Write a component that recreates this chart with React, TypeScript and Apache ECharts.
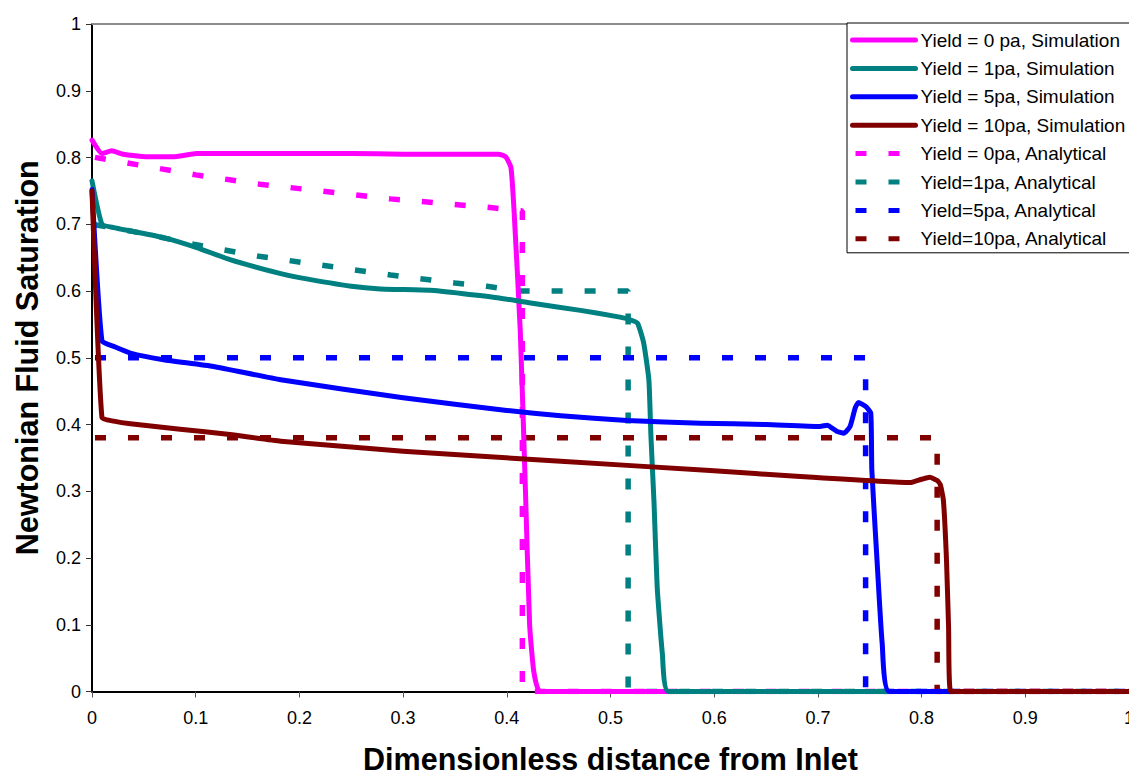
import React, { useEffect, useRef } from "react";
import * as echarts from "echarts";

// Simulated saturation profiles: [dimensionless distance, saturation]
const yield0Sim: [number, number][] = [
  [0, 0.826], [0.0096, 0.806], [0.019, 0.81], [0.03, 0.805], [0.053, 0.801], [0.078, 0.801],
  [0.101, 0.806], [0.182, 0.806], [0.25, 0.806], [0.3, 0.805], [0.38, 0.805], [0.392, 0.805],
  [0.399, 0.801], [0.404, 0.785], [0.407, 0.72], [0.413, 0.54], [0.418, 0.3], [0.422, 0.1],
  [0.426, 0.03], [0.432, 0.0], [1, 0],
];
const yield1Sim: [number, number][] = [
  [0, 0.765], [0.0096, 0.7], [0.021, 0.695], [0.037, 0.69], [0.069, 0.68], [0.101, 0.665],
  [0.133, 0.647], [0.182, 0.626], [0.2, 0.62], [0.25, 0.607], [0.278, 0.603], [0.326, 0.601],
  [0.358, 0.596], [0.391, 0.59], [0.423, 0.582], [0.471, 0.571], [0.505, 0.562], [0.517, 0.558],
  [0.526, 0.552], [0.532, 0.522], [0.537, 0.467], [0.539, 0.382], [0.542, 0.282], [0.545, 0.157],
  [0.55, 0.057], [0.556, 0.0], [1, 0],
];
const yield5Sim: [number, number][] = [
  [0, 0.752], [0.0096, 0.525], [0.021, 0.517], [0.037, 0.507], [0.069, 0.497], [0.117, 0.487],
  [0.182, 0.467], [0.3, 0.44], [0.4, 0.421], [0.452, 0.413], [0.516, 0.406], [0.587, 0.402],
  [0.65, 0.4], [0.702, 0.397], [0.709, 0.399], [0.718, 0.39], [0.725, 0.387], [0.731, 0.397],
  [0.736, 0.425], [0.739, 0.433], [0.746, 0.427], [0.751, 0.417], [0.752, 0.332], [0.757, 0.197],
  [0.762, 0.072], [0.769, 0.0], [1, 0],
];
const yield10Sim: [number, number][] = [
  [0, 0.75], [0.0096, 0.41], [0.021, 0.405], [0.037, 0.401], [0.085, 0.393], [0.133, 0.385],
  [0.182, 0.375], [0.3, 0.36], [0.452, 0.345], [0.596, 0.331], [0.683, 0.322], [0.789, 0.313],
  [0.8, 0.318], [0.808, 0.321], [0.815, 0.316], [0.818, 0.31], [0.821, 0.287], [0.824, 0.197],
  [0.826, 0.097], [0.828, 0.0], [1, 0],
];

// Analytical profiles
const yield0Ana: [number, number][] = [
  [0, 0.801], [0.037, 0.791], [0.1, 0.774], [0.162, 0.76], [0.288, 0.738], [0.384, 0.725],
  [0.415, 0.72], [0.415, 0], [1, 0],
];
const yield1Ana: [number, number][] = [
  [0, 0.7], [0.037, 0.69], [0.098, 0.67], [0.161, 0.652], [0.288, 0.624], [0.35, 0.612],
  [0.381, 0.607], [0.413, 0.6], [0.517, 0.6], [0.517, 0], [1, 0],
];
const yield5Ana: [number, number][] = [[0, 0.5], [0.746, 0.5], [0.746, 0], [1, 0]];
const yield10Ana: [number, number][] = [[0, 0.38], [0.815, 0.38], [0.815, 0], [1, 0]];

const seriesNames = [
  "Yield = 0 pa, Simulation",
  "Yield = 1pa, Simulation",
  "Yield = 5pa, Simulation",
  "Yield = 10pa, Simulation",
  "Yield = 0pa, Analytical",
  "Yield=1pa, Analytical",
  "Yield=5pa, Analytical",
  "Yield=10pa, Analytical",
];
const seriesColors = ["#FF00FF", "#008080", "#0000FF", "#800000"];

const FONT = "'Liberation Sans', Arial, sans-serif";
const fmt = (v: number) => String(+v.toFixed(1));

export default function App() {
  const ref = useRef<HTMLDivElement>(null);

  useEffect(() => {
    if (!ref.current) return;
    const chart = echarts.init(ref.current, undefined, { renderer: "svg" });
    const simData = [yield0Sim, yield1Sim, yield5Sim, yield10Sim];
    const anaData = [yield0Ana, yield1Ana, yield5Ana, yield10Ana];

    const series: any[] = [];
    simData.forEach((d, i) => {
      series.push({
        name: seriesNames[i],
        type: "line",
        data: d,
        showSymbol: false,
        symbol: "none",
        smooth: 0.15,
        lineStyle: { color: seriesColors[i], width: 5, cap: "round", join: "round" },
        itemStyle: { color: seriesColors[i] },
        z: 3,
      });
    });
    anaData.forEach((d, i) => {
      series.push({
        name: seriesNames[i + 4],
        type: "line",
        data: d,
        showSymbol: false,
        symbol: "none",
        lineStyle: {
          color: seriesColors[i],
          width: 5.5,
          type: [11, 22],
          dashOffset: -3,
          cap: "butt",
        },
        itemStyle: { color: seriesColors[i] },
        z: 2,
      });
    });

    chart.setOption({
      animation: false,
      backgroundColor: "#ffffff",
      grid: {
        left: 92,
        right: 0,
        top: 24,
        bottom: 83.5,
        containLabel: false,
        outerBoundsMode: "none",
      },
      legend: {
        orient: "vertical",
        left: 847,
        top: 23,
        itemWidth: 63,
        itemHeight: 16,
        itemGap: 9.4,
        padding: [7.5, 20, 4.5, 3],
        backgroundColor: "#ffffff",
        borderColor: "#000000",
        borderWidth: 1,
        borderRadius: 0,
        itemStyle: { opacity: 0 },
        lineStyle: { width: 5 },
        textStyle: { fontFamily: FONT, fontSize: 19, lineHeight: 19, color: "#000" },
        data: seriesNames,
      },
      xAxis: [
        {
          type: "value",
          min: 0,
          max: 1,
          interval: 0.1,
          name: "Dimensionless distance from Inlet",
          nameLocation: "middle",
          nameGap: 52,
          nameTextStyle: {
            fontFamily: FONT,
            fontSize: 30.5,
            lineHeight: 30,
            fontWeight: "bold",
            color: "#000",
          },
          axisLine: { show: true, lineStyle: { color: "#000", width: 2 } },
          axisTick: { show: true, length: 6, lineStyle: { color: "#555", width: 1 } },
          axisLabel: { fontFamily: FONT, fontSize: 18, color: "#000", margin: 17, formatter: fmt },
          splitLine: { show: false },
        },
        {
          // top border of the plot area
          type: "value",
          position: "top",
          min: 0,
          max: 1,
          axisLine: { show: true, lineStyle: { color: "#8c8c8c", width: 2 } },
          axisTick: { show: false },
          axisLabel: { show: false },
          splitLine: { show: false },
        },
      ],
      yAxis: {
        type: "value",
        min: 0,
        max: 1,
        interval: 0.1,
        name: "Newtonian Fluid Saturation",
        nameLocation: "middle",
        nameGap: 50,
        nameTextStyle: { fontFamily: FONT, fontSize: 30.5, fontWeight: "bold", color: "#000" },
        axisLine: { show: true, lineStyle: { color: "#000", width: 2 } },
        axisTick: { show: true, length: 6, lineStyle: { color: "#333", width: 1 } },
        axisLabel: { fontFamily: FONT, fontSize: 18, color: "#000", margin: 11, formatter: fmt },
        splitLine: { show: false },
      },
      series,
    });
    return () => chart.dispose();
  }, []);

  return (
    <div
      ref={ref}
      style={{ position: "fixed", left: 0, top: 0, width: 1129, height: 775 }}
    />
  );
}
